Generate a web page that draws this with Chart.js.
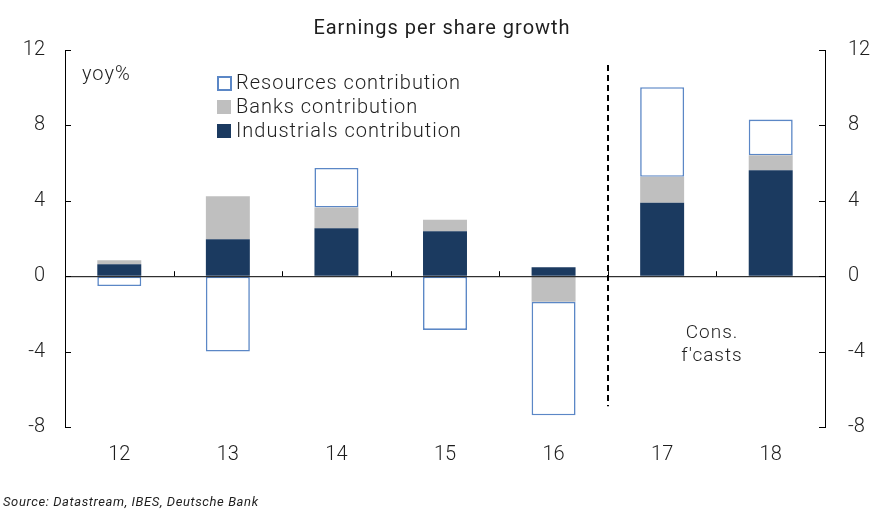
<!DOCTYPE html>
<html>
<head>
<meta charset="utf-8">
<title>Earnings per share growth</title>
<script src="https://cdn.jsdelivr.net/npm/chart.js@4.4.1/dist/chart.umd.min.js"></script>
<style>
  html, body { margin: 0; padding: 0; background: #fff; }
  #wrap { width: 881px; height: 517px; position: relative; }
</style>
</head>
<body>
<div id="wrap"><canvas id="epsChart"></canvas></div>
<script>
// Chart data
const years = ["12", "13", "14", "15", "16", "17", "18"];
const industrials = [0.63, 1.96, 2.54, 2.38, 0.48, 3.9, 5.62];
const banks = [0.22, 2.28, 1.1, 0.62, -1.36, 1.37, 0.79];
const resources = [-0.52, -4.0, 2.1, -2.85, -6.02, 4.76, 1.9];
const yTicks = [-8, -4, 0, 4, 8, 12];

// Forecast divider sits between "16" and "17"
const forecastSplit = 4.5;
const dividerTop = 11.2;
const dividerBottom = -6.9;

const FONT = "Roboto, 'Liberation Sans', Arial, sans-serif";
const TEXT = "#1e1e1e";
const NAVY = "#1b3a60";
const GREY = "#bfbfbf";
const BLUE = "#5b87c6";

// Extra drawing: title, zero line, inward ticks, legend, notes
const decorations = {
  id: "decorations",
  afterDatasetsDraw(chart) {
    const ctx = chart.ctx;
    const area = chart.chartArea;
    const x = chart.scales.x;
    const y = chart.scales.y;
    const y0 = y.getPixelForValue(0);

    ctx.save();
    ctx.strokeStyle = "#000";
    ctx.lineWidth = 1;

    // zero line
    ctx.beginPath();
    ctx.moveTo(area.left, y0 + 0.5);
    ctx.lineTo(area.right, y0 + 0.5);
    ctx.stroke();

    // category ticks on zero line
    for (let i = 0; i < years.length - 1; i++) {
      const px = Math.round(x.getPixelForValue(i + 0.5)) + 0.5;
      ctx.beginPath();
      ctx.moveTo(px, y0);
      ctx.lineTo(px, y0 - 5);
      ctx.stroke();
    }

    // inward ticks on both value axes
    yTicks.forEach((v) => {
      const py = Math.round(y.getPixelForValue(v)) + 0.5;
      ctx.beginPath();
      ctx.moveTo(area.left, py);
      ctx.lineTo(area.left + 6, py);
      ctx.moveTo(area.right, py);
      ctx.lineTo(area.right - 6, py);
      ctx.stroke();
    });

    // forecast divider
    const dx = Math.round(x.getPixelForValue(forecastSplit));
    ctx.lineWidth = 2;
    ctx.setLineDash([6, 4]);
    ctx.beginPath();
    ctx.moveTo(dx, y.getPixelForValue(dividerTop));
    ctx.lineTo(dx, y.getPixelForValue(dividerBottom));
    ctx.stroke();
    ctx.setLineDash([]);

    // title
    ctx.fillStyle = TEXT;
    ctx.letterSpacing = "1px";
    ctx.font = "400 20px " + FONT;
    ctx.textAlign = "center";
    ctx.textBaseline = "middle";
    ctx.fillText("Earnings per share growth", 442, 29);

    // unit label
    ctx.font = "300 20px " + FONT;
    ctx.textAlign = "left";
    ctx.fillText("yoy%", 82, 75);

    // forecast note
    ctx.textAlign = "center";
    ctx.font = "300 19px " + FONT;
    ctx.fillText("Cons.", 712, 333);
    ctx.fillText("f'casts", 712, 356);

    // legend (top to bottom: resources, banks, industrials)
    const items = [2, 1, 0].map((i) => chart.data.datasets[i]);
    ctx.font = "300 20px " + FONT;
    ctx.textAlign = "left";
    items.forEach((ds, k) => {
      const cy = 83 + k * 24;
      if (ds.borderWidth) {
        ctx.fillStyle = "#fff";
        ctx.fillRect(218, cy - 6, 13, 13);
        ctx.strokeStyle = ds.borderColor;
        ctx.lineWidth = 2;
        ctx.strokeRect(218, cy - 6, 13, 13);
      } else {
        ctx.fillStyle = ds.backgroundColor;
        ctx.fillRect(217, cy - 7, 14, 14);
      }
      ctx.fillStyle = TEXT;
      ctx.fillText(ds.label, 236, cy + 1);
    });

    // source
    ctx.letterSpacing = "0.6px";
    ctx.font = "italic 400 13px " + FONT;
    ctx.textAlign = "left";
    ctx.fillText("Source: Datastream, IBES, Deutsche Bank", 3, 503);

    ctx.restore();
  },
};

const valueAxis = (position, width, padding) => ({
  type: "linear",
  position: position,
  min: yTicks[0],
  max: yTicks[yTicks.length - 1],
  grid: { drawOnChartArea: false, drawTicks: false },
  border: { display: true, color: "#000", width: 1 },
  ticks: {
    stepSize: 4,
    padding: padding,
    color: TEXT,
    font: { family: FONT, size: 20, weight: 300 },
  },
  afterFit(scale) {
    scale.width = width;
  },
});

const ctx = document.getElementById("epsChart").getContext("2d");
new Chart(ctx, {
  type: "bar",
  data: {
    labels: years,
    datasets: [
      {
        label: "Industrials contribution",
        data: industrials,
        backgroundColor: NAVY,
        borderWidth: 0,
      },
      {
        label: "Banks contribution",
        data: banks,
        backgroundColor: GREY,
        borderWidth: 0,
      },
      {
        label: "Resources contribution",
        data: resources,
        backgroundColor: "#fff",
        borderColor: BLUE,
        borderWidth: 1.6,
        borderSkipped: false,
      },
    ],
  },
  options: {
    responsive: true,
    maintainAspectRatio: false,
    animation: false,
    barPercentage: 0.405,
    categoryPercentage: 1,
    layout: { padding: { top: 50, left: 0, right: 0, bottom: 0 } },
    plugins: {
      legend: { display: false },
      title: { display: false },
      tooltip: { enabled: false },
    },
    scales: {
      x: {
        stacked: true,
        grid: { display: false, drawTicks: false },
        border: { display: false },
        ticks: {
          padding: 16,
          color: TEXT,
          font: { family: FONT, size: 20, weight: 300 },
        },
        afterFit(scale) {
          scale.height = 90;
        },
      },
      y: Object.assign(valueAxis("left", 65, 20), { stacked: true }),
      y2: valueAxis("right", 56, 23),
    },
  },
  plugins: [decorations],
});
</script>
</body>
</html>
